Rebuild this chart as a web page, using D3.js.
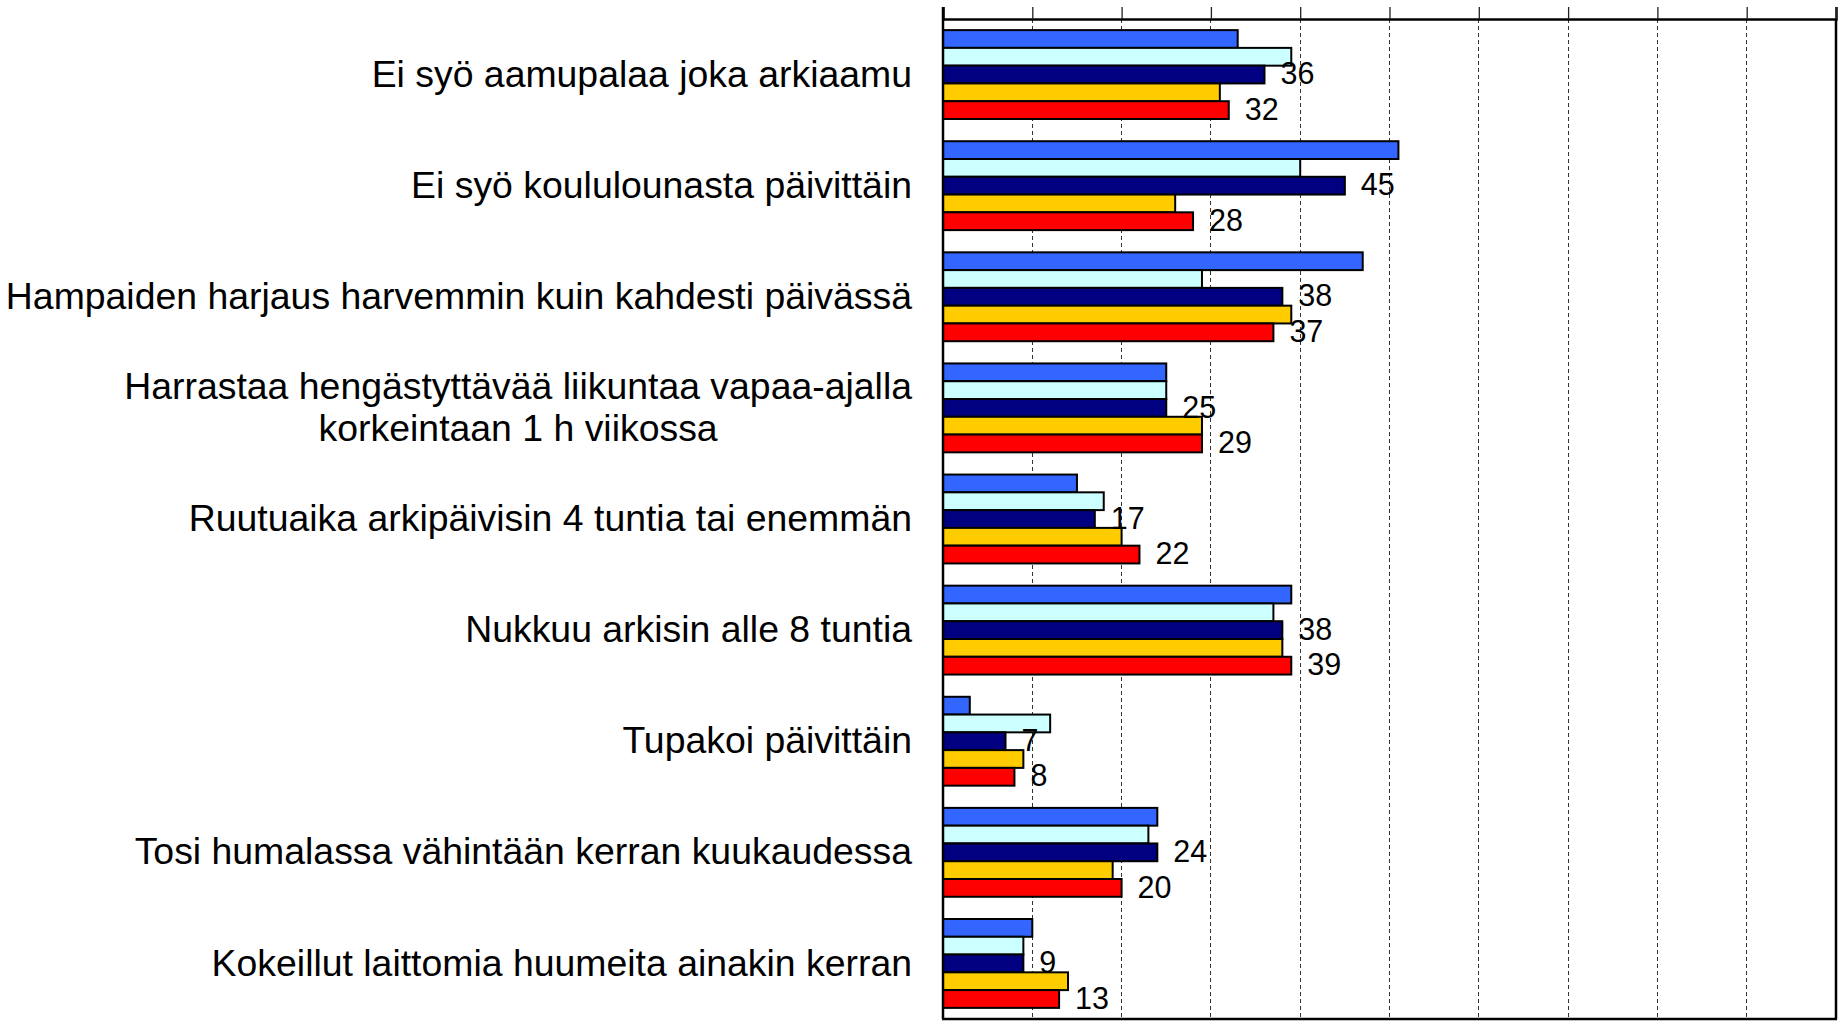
<!DOCTYPE html>
<html>
<head>
<meta charset="utf-8">
<script src="https://cdn.jsdelivr.net/npm/d3@7"></script>
<style>
  html, body { margin: 0; padding: 0; background: #ffffff; }
  svg { display: block; }
  text { font-family: Arial, "Liberation Sans", sans-serif; fill: #000; }
</style>
</head>
<body>
<svg id="chart" width="1839" height="1023"></svg>
<script>
// ---- Data ----
const categories = [
  ["Ei syö aamupalaa joka arkiaamu"],
  ["Ei syö koululounasta päivittäin"],
  ["Hampaiden harjaus harvemmin kuin kahdesti päivässä"],
  ["Harrastaa hengästyttävää liikuntaa vapaa-ajalla", "korkeintaan 1 h viikossa"],
  ["Ruutuaika arkipäivisin 4 tuntia tai enemmän"],
  ["Nukkuu arkisin alle 8 tuntia"],
  ["Tupakoi päivittäin"],
  ["Tosi humalassa vähintään kerran kuukaudessa"],
  ["Kokeillut laittomia huumeita ainakin kerran"]
];
const series1 = [33, 51, 47, 25, 15, 39, 3, 24, 10];
const series2 = [39, 40, 29, 25, 18, 37, 12, 23, 9];
const series3 = [36, 45, 38, 25, 17, 38, 7, 24, 9];
const series4 = [31, 26, 39, 29, 20, 38, 9, 19, 14];
const series5 = [32, 28, 37, 29, 22, 39, 8, 20, 13];
const xTicks = [0, 10, 20, 30, 40, 50, 60, 70, 80, 90, 100];
const labelledSeries = [2, 4]; // indices of series whose values are printed

// ---- Layout / style ----
const allSeries = [series1, series2, series3, series4, series5];
const colors = ["#3366FF", "#CCFFFF", "#000080", "#FFCC00", "#FF0000"];
const margin = { left: 943, right: 3, top: 19, bottom: 4 };
const W = 1839, H = 1023;

const svg = d3.select("#chart");
svg.append("rect").attr("width", W).attr("height", H).attr("fill", "#fff");

const x = d3.scaleLinear().domain([0, 100]).range([margin.left, W - margin.right]);
const y = d3.scaleBand().domain(d3.range(categories.length))
  .range([margin.top, H - margin.bottom]).paddingInner(0.2).paddingOuter(0.1);
const ySub = d3.scaleBand().domain(d3.range(allSeries.length)).range([0, y.bandwidth()]);

// gridlines (dashed)
svg.append("g").selectAll("line").data(xTicks.slice(1, -1)).join("line")
  .attr("x1", d => x(d)).attr("x2", d => x(d))
  .attr("y1", margin.top).attr("y2", H - margin.bottom)
  .attr("stroke", "#333").attr("stroke-width", 1).attr("stroke-dasharray", "4,3")
  .attr("shape-rendering", "crispEdges");

// bars
const groups = svg.append("g").selectAll("g").data(categories).join("g")
  .attr("transform", (d, i) => `translate(0,${y(i)})`);
groups.each(function(cat, ci) {
  const g = d3.select(this);
  allSeries.forEach((s, si) => {
    g.append("rect")
      .attr("x", x(0))
      .attr("y", ySub(si))
      .attr("width", x(s[ci]) - x(0))
      .attr("height", ySub.bandwidth())
      .attr("fill", colors[si])
      .attr("stroke", "#000").attr("stroke-width", 2);
  });
  labelledSeries.forEach(si => {
    g.append("text")
      .attr("x", x(allSeries[si][ci]) + 16)
      .attr("y", ySub(si) + ySub.bandwidth() / 2 - 1)
      .attr("dy", "0.35em")
      .attr("font-size", 30.5)
      .text(allSeries[si][ci]);
  });
});

// top axis with outward ticks, no labels
const topAxis = d3.axisTop(x).tickValues(xTicks).tickSize(12).tickFormat("");
const gTop = svg.append("g").attr("transform", `translate(0,${margin.top})`).call(topAxis);
gTop.select(".domain").attr("stroke", "#000").attr("stroke-width", 2.5);
gTop.selectAll(".tick line").attr("stroke", "#222").attr("stroke-width", 1.3);

// frame: left, right, bottom
svg.append("line").attr("x1", x(0)).attr("x2", x(0))
  .attr("y1", margin.top - 12).attr("y2", H - margin.bottom)
  .attr("stroke", "#000").attr("stroke-width", 2.5);
svg.append("line").attr("x1", x(100)).attr("x2", x(100))
  .attr("y1", margin.top).attr("y2", H - margin.bottom)
  .attr("stroke", "#000").attr("stroke-width", 2.5);
svg.append("line").attr("x1", x(0) - 1).attr("x2", x(100) + 1)
  .attr("y1", H - margin.bottom).attr("y2", H - margin.bottom)
  .attr("stroke", "#000").attr("stroke-width", 2.5);

// category labels (right-aligned block, lines centred within)
const labelRight = 912;
const lineH = 42;
categories.forEach((lines, ci) => {
  const cy = y(ci) + y.bandwidth() / 2 - 1;
  const t = svg.append("text").attr("font-size", 37.4);
  const spans = lines.map((ln, li) => t.append("tspan")
    .attr("y", cy + (li - (lines.length - 1) / 2) * lineH)
    .attr("dy", "0.35em")
    .text(ln));
  const widths = spans.map(s => s.node().getComputedTextLength());
  const maxW = d3.max(widths);
  spans.forEach(s => s.attr("x", labelRight - maxW / 2).attr("text-anchor", "middle"));
});
</script>
</body>
</html>
